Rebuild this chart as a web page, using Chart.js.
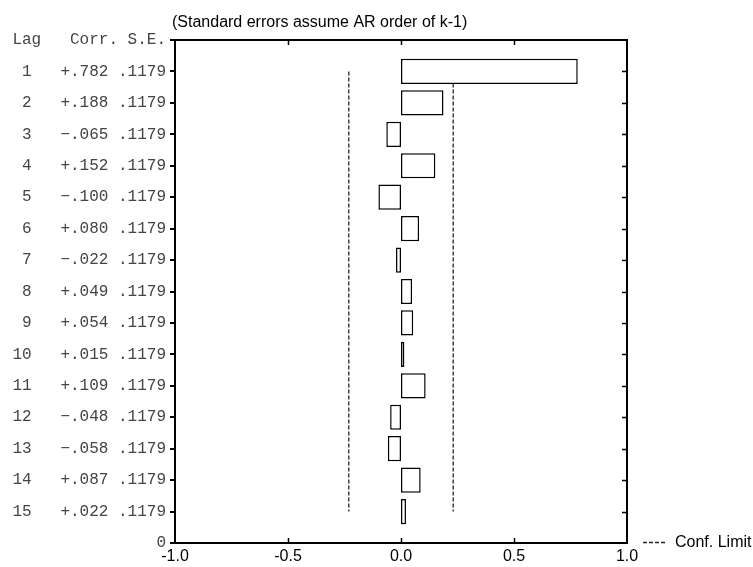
<!DOCTYPE html>
<html>
<head>
<meta charset="utf-8">
<title>Autocorrelation</title>
<script src="https://cdn.jsdelivr.net/npm/chart.js@4.4.0/dist/chart.umd.min.js"></script>
<style>
    html, body { margin: 0; padding: 0; background: #fff; }
    #wrap { position: relative; width: 753px; height: 567px; }
</style>
</head>
<body>
<div id="wrap"><canvas id="acf-chart"></canvas></div>
<script>
// Chart data
const lags = [1, 2, 3, 4, 5, 6, 7, 8, 9, 10, 11, 12, 13, 14, 15];
const corr = [0.782, 0.188, -0.065, 0.152, -0.100, 0.080, -0.022, 0.049, 0.054, 0.015, 0.109, -0.048, -0.058, 0.087, 0.022];
const stdErr = [0.1179, 0.1179, 0.1179, 0.1179, 0.1179, 0.1179, 0.1179, 0.1179, 0.1179, 0.1179, 0.1179, 0.1179, 0.1179, 0.1179, 0.1179];
const confLimit = 0.231;
const xTickValues = [-1.0, -0.5, 0.0, 0.5, 1.0];
const headerText = 'Lag   Corr. S.E.';
const titleText = '(Standard errors assume AR order of k-1)';
const legendText = 'Conf. Limit';

// Format "+.782" / "-.065"
function fmtCorr(v) {
    const s = Math.abs(v).toFixed(3).replace(/^0/, '');
    return (v < 0 ? '\u2212' : '+') + s;
}

function fmtSE(v) {
    return v.toFixed(4).replace(/^0/, '');
}

// Left-hand table labels
function rowLabel(value) {
    if (value === 0) return headerText;
    if (value === lags.length + 1) return '0';
    const i = lags.indexOf(value);
    if (i < 0) return '';
    return String(lags[i]).padStart(2, ' ') + '   ' + fmtCorr(corr[i]) + ' ' + fmtSE(stdErr[i]);
}

// Frame, inward ticks, title and legend
const framePlugin = {
    id: 'frame',
    afterDraw(chart) {
        const ctx = chart.ctx;
        const area = chart.chartArea;
        const xs = chart.scales.x;
        const ys = chart.scales.y;

        ctx.save();
        ctx.strokeStyle = '#000';
        ctx.lineWidth = 2;
        ctx.strokeRect(area.left, area.top, area.right - area.left, area.bottom - area.top);

        ctx.lineWidth = 1.5;
        ctx.beginPath();
        xTickValues.slice(1, -1).forEach(v => {
            const px = Math.round(xs.getPixelForValue(v)) + 0.5;
            ctx.moveTo(px, area.top);
            ctx.lineTo(px, area.top + 5);
            ctx.moveTo(px, area.bottom);
            ctx.lineTo(px, area.bottom - 5);
        });
        lags.forEach(l => {
            const py = Math.round(ys.getPixelForValue(l)) + 0.5;
            ctx.moveTo(area.right, py);
            ctx.lineTo(area.right - 5, py);
        });
        ctx.stroke();

        // Title
        ctx.fillStyle = '#000';
        ctx.font = '16px "Liberation Sans", Arial, sans-serif';
        ctx.textAlign = 'left';
        ctx.textBaseline = 'middle';
        ctx.fillText(titleText, area.left - 3, 23);

        // Legend
        const ly = area.bottom - 0.5;
        ctx.strokeStyle = '#222';
        ctx.lineWidth = 1.3;
        ctx.setLineDash([4, 2]);
        ctx.beginPath();
        ctx.moveTo(area.right + 16, ly);
        ctx.lineTo(area.right + 40, ly);
        ctx.stroke();
        ctx.setLineDash([]);
        ctx.fillText(legendText, area.right + 48, ly);
        ctx.restore();
    }
};

const ctx = document.getElementById('acf-chart').getContext('2d');

const limitLine = (x) => ({
    type: 'line',
    data: [{ x: x, y: 1 }, { x: x, y: lags[lags.length - 1] }],
    borderColor: '#222',
    borderWidth: 1.3,
    borderDash: [4, 2],
    pointRadius: 0,
    fill: false
});

new Chart(ctx, {
    type: 'bar',
    data: {
        datasets: [
            {
                type: 'bar',
                indexAxis: 'y',
                data: lags.map((l, i) => ({ x: corr[i], y: l })),
                backgroundColor: '#fff',
                borderColor: '#000',
                borderWidth: 1.5,
                borderSkipped: false,
                barPercentage: 0.8,
                categoryPercentage: 1.0
            },
            limitLine(confLimit),
            limitLine(-confLimit)
        ]
    },
    options: {
        responsive: true,
        maintainAspectRatio: false,
        animation: false,
        layout: {
            padding: { top: 40, right: 126, left: 0, bottom: 0 }
        },
        plugins: {
            legend: { display: false },
            tooltip: { enabled: false }
        },
        scales: {
            x: {
                type: 'linear',
                min: -1,
                max: 1,
                offset: false,
                afterFit(scale) { scale.height = 24; },
                border: { display: false },
                grid: { display: false, drawTicks: false, offset: false },
                ticks: {
                    stepSize: 0.5,
                    padding: 4,
                    color: '#000',
                    font: { family: '"Liberation Sans", Arial, sans-serif', size: 16 },
                    callback: v => v.toFixed(1)
                }
            },
            y: {
                type: 'linear',
                reverse: true,
                min: 0,
                max: lags.length + 1,
                offset: false,
                afterFit(scale) { scale.width = 175; },
                border: { display: false },
                grid: {
                    offset: false,
                    drawOnChartArea: false,
                    drawTicks: true,
                    tickLength: 5,
                    color: '#000',
                    lineWidth: 2
                },
                ticks: {
                    stepSize: 1,
                    autoSkip: false,
                    padding: 4,
                    color: '#444',
                    font: { family: '"Liberation Mono", "Courier New", monospace', size: 16 },
                    callback: v => rowLabel(v)
                }
            }
        }
    },
    plugins: [framePlugin]
});
</script>
</body>
</html>
